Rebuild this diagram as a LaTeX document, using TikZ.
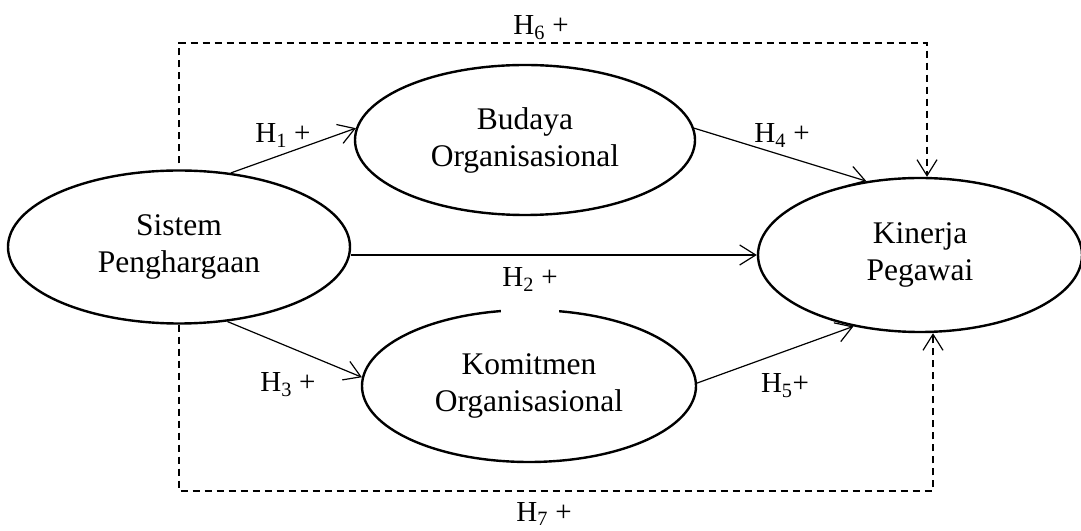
\documentclass[tikz,border=0pt]{standalone}
\usepackage{fontspec}
\setmainfont{Liberation Serif}
\usetikzlibrary{arrows.meta,shapes.geometric}

\tikzset{
  var/.style={draw, ellipse, line width=2.4pt, inner sep=0pt, align=center,
    font=\fontsize{31.5}{37}\selectfont},
  hyp/.style={anchor=base, inner sep=1pt, font=\fontsize{29}{34}\selectfont},
  link/.style={line width=1.2pt, -{Straight Barb[length=16pt,width=20pt,line width=1.2pt]}},
  dlink/.style={link, line width=1.4pt, dash pattern=on 7pt off 5pt}
}

\begin{document}
\begin{tikzpicture}[x=1pt,y=1pt]
	\useasboundingbox (0,0) rectangle (1081,530);
	% variables
	\node[var, minimum width=342pt, minimum height=153pt] (sp) at (179,283) {Sistem\\Penghargaan};
	\node[var, minimum width=340pt, minimum height=150pt] (bo) at (525,390) {Budaya\\Organisasional};
	\node[var, minimum width=334pt, minimum height=152pt] (ko) at (529,144) {Komitmen\\Organisasional};
	\node[var, minimum width=324pt, minimum height=154pt] (kp) at (920,275) {Kinerja\\Pegawai};
	% paths
	\draw[link] (sp.55) -- (bo.176);
	\draw[link] (sp.east |- kp.west) -- (kp.west);
	\draw[link] (sp.303) -- (ko.177);
	\draw[link] (bo.4) -- (kp.126);
	\draw[link] (ko.1) -- (kp.227);
	\coordinate (top) at (0,487);
	\coordinate (bot) at (0,39);
	\coordinate (kt) at ([xshift=7pt]kp.north);
	\coordinate (kb) at ([xshift=13pt]kp.south);
	\draw[dlink, shorten <=6pt] (sp.north) |- (kt |- top) -- (kt);
	\draw[dlink] (sp.south) |- (kb |- bot) -- (kb);
	% hypotheses
	\node[hyp] (h1) at (283,387) {H\textsubscript{1} +};
	\node[hyp, fill=white, text depth=28pt] (h2) at (530,243) {H\textsubscript{2} +};
	\node[hyp] (h3) at (288,138) {H\textsubscript{3} +};
	\node[hyp] (h4) at (782,387) {H\textsubscript{4} +};
	\node[hyp] (h5) at (785,137) {H\textsubscript{5}+};
	\node[hyp] (h6) at (541,495) {H\textsubscript{6} +};
	\node[hyp] (h7) at (544,9) {H\textsubscript{7} +};
\end{tikzpicture}
\end{document}
